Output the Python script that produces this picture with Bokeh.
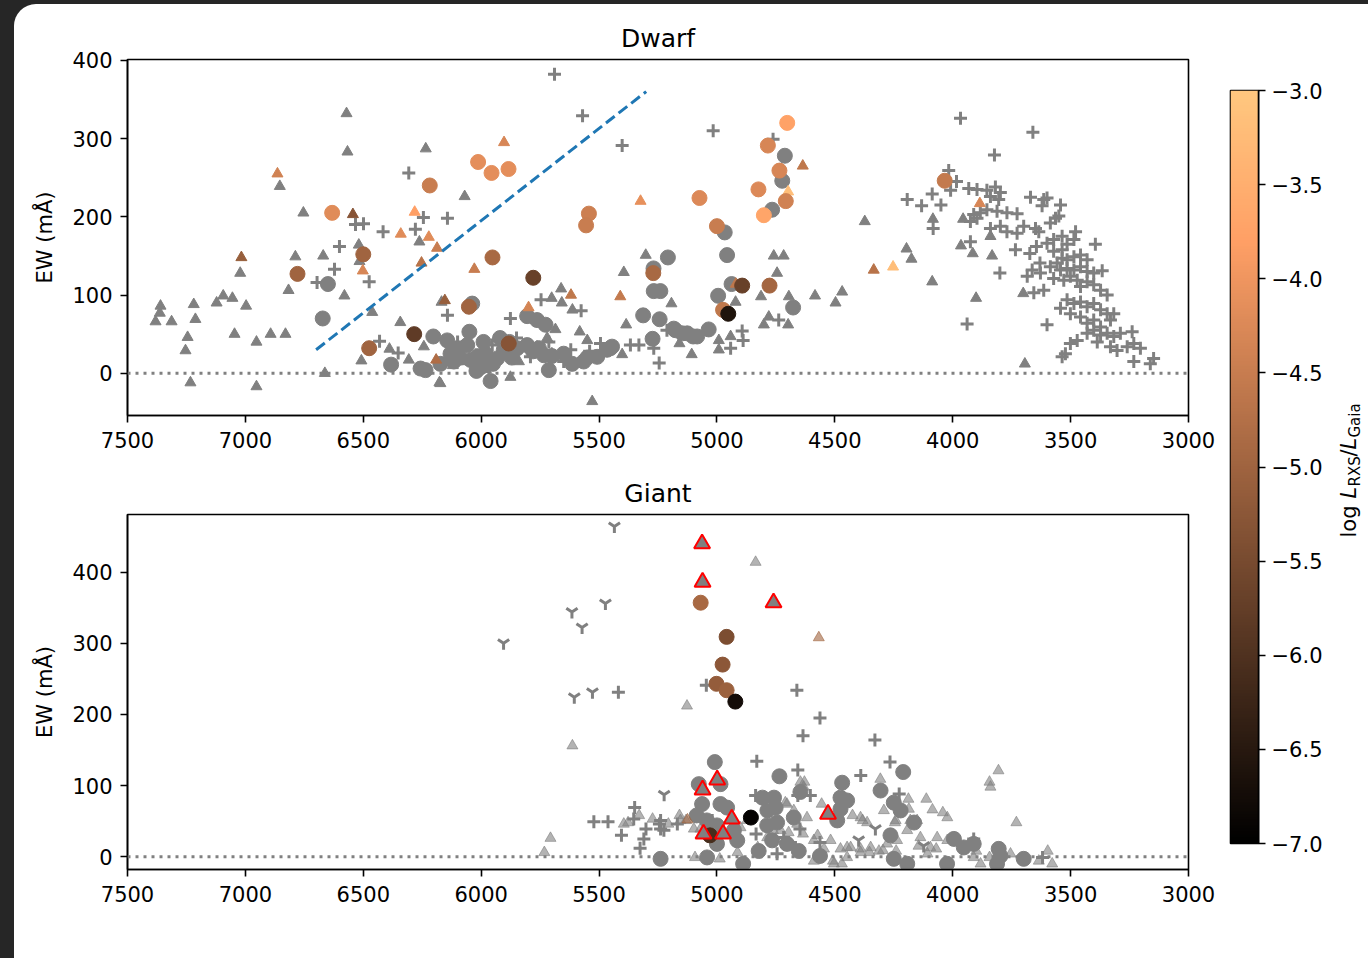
import numpy as np
from bokeh.plotting import figure
from bokeh.models import ColumnDataSource, Range1d, FixedTicker, LinearColorMapper, Span
from bokeh.core.properties import value
from bokeh.transform import linear_cmap
from bokeh.layouts import row, column
from bokeh.embed import file_html
from bokeh.resources import INLINE

FONT = "DejaVu Sans"
GRAY = "#808080"

# ---------------- data ----------------
x_ticks = [7500, 7000, 6500, 6000, 5500, 5000, 4500, 4000, 3500, 3000]
y_ticks = [0, 100, 200, 300, 400]
cbar_ticks = [-3.0, -3.5, -4.0, -4.5, -5.0, -5.5, -6.0, -6.5, -7.0]
cbar_labels = ["\u22123.0", "\u22123.5", "\u22124.0", "\u22124.5", "\u22125.0", "\u22125.5", "\u22126.0", "\u22126.5", "\u22127.0"]
zero_level = 0
line_teff = [6700, 5300]
line_ew = [30, 360]

# Dwarf: grey (no X-ray) circles
dw_gc_teff = [6650, 6672, 6382, 6038, 5208, 5269, 5268, 5240, 5313, 5243, 5273, 5183, 5147, 5101,
              6203, 6050, 6020, 5960, 5713, 5805, 5763, 5727, 5614, 5565, 5508, 5466, 5445,
              6257, 6236, 6144, 6102, 6059, 6017, 5982, 5932, 5904, 5847, 5805, 5755, 5734, 6045, 6116, 6173,
              4712, 4723, 4766, 4967, 4957, 4938, 4995, 4677, 5176, 5126, 5084, 5035, 5452,
              5880, 6000, 5950, 5870, 5780, 5700, 5650, 5550, 6090, 6130, 5990, 5920]
dw_gc_ew = [114, 70, 11, 89, 148, 134, 105, 105, 74, 69, 44, 57, 51, 47,
            47, 53, 3, -10, 4, 73, 68, 62, 12, 15, 21, 30, 34,
            6, 4, 42, 30, 36, 21, 25, 19, 30, 32, 36, 32, 23, 17, 15, 12,
            278, 246, 209, 180, 151, 114, 99, 84, 55, 51, 47, 56, 32,
            40, 8, 12, 20, 28, 22, 25, 20, 20, 25, 40, 45]

# Dwarf: coloured circles
dw_cc_teff = [6632, 6218, 6779, 6500, 6475, 6284, 6052, 6013, 5956, 5884, 5952, 5779, 5883, 5270,
              5543, 5555, 4702, 4784, 4735, 4824, 5074, 4801, 4708, 5000, 4893, 4777, 4974, 4952, 4034]
dw_cc_ew = [205, 240, 127, 152, 32, 50, 85, 270, 256, 261, 148, 122, 38, 128,
            204, 189, 320, 291, 259, 235, 224, 202, 220, 188, 112, 112, 81, 76, 246]
dw_cc_logl = [-4.2, -4.5, -5.0, -5.0, -5.0, -5.8, -5.0, -4.15, -4.15, -4.15, -4.9, -5.7, -5.3, -4.9,
              -4.45, -4.5, -3.75, -4.3, -4.3, -4.25, -4.25, -3.7, -4.4, -4.5, -5.7, -4.95, -4.6, -6.6, -4.55]

# Dwarf: grey triangles
dw_gt_teff = [7381, 7360, 7363, 7313, 7245, 7254, 7233, 7219, 7212, 7122, 7094, 7055, 7046, 6997, 7022,
              6953, 6953, 6893, 6830, 6854, 6754, 6788, 6817, 6670, 6663, 6571, 6567, 6580, 6519, 6516,
              6462, 6508, 6343, 6389, 6235, 6262, 6168, 6070, 6177,
              5302, 5395, 5385, 5193, 5107, 5529, 5661, 5701, 5658, 5613, 5685, 5582, 6243, 6173, 5876,
              6307, 5550, 5763,
              4759, 4717, 4745, 4373, 4584, 4497, 4469, 4813, 4695, 4801, 4780, 4698, 4921, 4992, 4942,
              4992, 5159, 5402,
              4084, 3956, 4196, 4175, 4087, 3965, 3915, 3833, 3840, 3901, 3701, 3694,
              6120, 6080, 5980, 5840, 5700, 5720]
dw_gt_ew = [66, 86, 77, 66, 46, 29, -12, 88, 69, 90, 99, 96, 50, 86, 128,
            40, -17, 50, 50, 239, 205, 149, 106, 150, 0, 332, 283, 99, 164, 143,
            78, 16, 65, 31, 287, 168, 91, 226, -12,
            151, 129, 62, 89, 24, -36, 108, 96, 90, 81, 56, 53, 34, -13, -5,
            17, 42, 34,
            150, 150, 128, 194, 99, 90, 104, 98, 98, 62, 72, 62, 91, 42, 47,
            30, 38, 24,
            197, 197, 159, 146, 117, 163, 153, 150, 175, 96, 102, 12,
            10, 15, 5, 15, 25, 45]

# Dwarf: coloured triangles
dw_ct_teff = [6864, 7017, 6544, 6502, 6341, 6282, 6222, 6187, 6253, 6154, 6191, 6029, 5799, 5619, 5410,
              5903, 5324, 4636, 4698, 4920, 4335, 4253, 3885]
dw_ct_ew = [255, 148, 203, 131, 178, 206, 174, 160, 141, 93, 17, 133, 84, 100, 98,
            295, 220, 265, 232, 114, 132, 136, 217]
dw_ct_logl = [-4.4, -5.1, -5.3, -4.3, -4.2, -3.8, -4.2, -4.5, -4.7, -5.1, -4.8, -4.5, -4.35, -4.6, -4.55,
              -4.3, -4.1, -4.6, -3.2, -4.6, -4.7, -3.2, -4.3]

# Dwarf: grey crosses
dw_x_teff = [6307, 6245, 6143, 6279, 6416, 6499, 6533, 6601, 6622, 6475, 6696, 6143, 6431, 6352,
             5876, 5746, 5576, 5494, 5331, 5367, 5245, 5650, 5713, 5791, 5953, 5212,
             5402, 5016, 4762, 4893, 4889, 4942, 4738, 5268, 5689, 5570,
             6100, 6000, 5900, 5850, 5620, 5540,
             3967, 3660, 3823, 4017, 3984, 4009, 4087, 4193, 4132, 4050, 4083,
             3932, 3897, 3855, 3819, 3798, 3840, 3805, 3670, 3614, 3600, 3543, 3621,
             3911, 3883, 3855, 3812, 3770, 3727, 3925, 3897, 3564, 3550,
             3840, 3798, 3770, 3727, 3699, 3649, 3635, 3586, 3479, 3486, 3395, 3925, 3734,
             3673, 3645, 3600, 3572, 3536, 3515, 3572, 3536, 3630, 3663, 3628, 3684, 3800,
             3586, 3557, 3536, 3515, 3486, 3458, 3430,
             3543, 3515, 3486, 3458, 3430, 3402, 3366,
             3572, 3529, 3501, 3472, 3458, 3430, 3402, 3373, 3345,
             3656, 3614, 3543, 3515, 3486, 3458, 3430, 3402, 3373, 3345,
             3501, 3458, 3430, 3402, 3373, 3331, 3317,
             3430, 3402, 3373, 3345, 3317, 3289,
             3501, 3472, 3387, 3331, 3303, 3260, 3232, 3204, 3239,
             3536, 3522, 3232, 3162, 3148, 3600, 3939]
dw_x_ew = [256, 199, 198, 184, 181, 191, 190, 162, 133, 117, 116, 74, 41, 26,
           70, 94, 80, 38, 36, 36, 13, 15, 40, 21, 36, 55,
           291, 310, 299, 54, 42, 32, 68, 32, 382, 329,
           40, 30, 25, 45, 30, 28,
           326, 308, 279, 259, 245, 234, 229, 222, 214, 215, 185,
           236, 235, 234, 238, 231, 226, 222, 225, 222, 224, 215, 214,
           203, 205, 209, 207, 205, 204, 194, 198, 198, 201,
           185, 188, 181, 179, 188, 185, 181, 192, 181, 171, 165, 168, 158,
           153, 162, 166, 171, 175, 165, 156, 158, 141, 132, 128, 124, 128,
           136, 141, 147, 145, 149, 151, 145,
           132, 134, 132, 136, 130, 128, 131,
           121, 119, 124, 119, 111, 117, 113, 106, 100,
           103, 106, 83, 94, 89, 91, 85, 89, 81, 76,
           76, 72, 64, 68, 59, 68, 76,
           51, 55, 49, 51, 47, 51,
           38, 42, 40, 34, 29, 34, 38, 32, 53,
           21, 25, 15, 12, 19, 62, 63]

# Giant: grey circles
gi_gc_teff = [5009, 5077, 4985, 4735, 4469, 4210, 4306, 4646, 5063, 4985, 4957, 4807, 4758, 4751, 4786,
              4476, 4448, 4476, 4250, 4221, 5086, 5043, 5000, 4928, 4914, 5000, 4787, 4745, 4766, 4703,
              4674, 4823, 5239, 5042, 4889, 4563, 4653, 4490, 4264, 4250, 4193, 4024, 3995, 3953, 3911,
              3805, 3798, 3812, 3699, 4164]
gi_gc_ew = [133, 102, 102, 113, 104, 119, 93, 91, 74, 74, 69, 83, 83, 69, 65,
            83, 79, 67, 76, 65, 58, 51, 44, 37, 23, 18, 44, 48, 23, 18,
            55, 8, -3, -1, -10, 1, 8, 51, 30, -3, -10, -10, 25, 13, 18,
            11, 1, -10, -3, 48]

# Giant: coloured circles
gi_cc_teff = [5069, 4959, 4976, 5002, 4959, 4922, 4856, 5030]
gi_cc_ew = [357, 309, 270, 243, 234, 218, 55, 30]
gi_cc_logl = [-4.9, -5.45, -5.25, -5.15, -5.05, -6.75, -6.95, -6.1]

# Giant: grey triangles
gi_gt_teff = [4836, 5127, 5613, 5706, 5732, 3806, 3844, 3730, 4112, 4086, 4042, 4023, 4307, 4188, 4180,
              4245, 4382, 4425, 4556, 4629, 4710, 4762, 4696, 4635, 4573, 4448, 4391, 4353, 4296, 4240,
              4193, 4145, 4107, 4070, 4546, 4508, 4470, 3597, 3578, 3635, 3900, 3844, 5377, 5330, 5273,
              5206, 5159, 5093, 4988, 4913, 4827, 5131,
              3840, 4186, 4066, 4023, 4137, 4095, 4518, 4476, 4433, 4391, 4348, 4313, 4278, 4236, 4589,
              4504, 4448, 4391, 4363, 4292, 4242, 4151, 3911, 3882, 3755, 5395, 5155, 5098, 5070, 4900,
              4872, 4787, 4730, 4703, 4674, 4660, 4618, 4646, 4632, 4589]
gi_gt_ew = [414, 212, 156, 26, 6, 121, 105, 48, 81, 66, 62, 55, 109, 81, 51,
            48, 51, 58, 74, 105, 76, 37, 34, 32, 30, 13, 11, 6, 9, 8,
            37, 15, 4, 11, 11, -6, -10, 8, -10, -6, 8, -1, 48, 58, 53,
            46, 58, -1, -3, 6, 13, 51,
            98, 67, 27, 23, 27, 13, 23, 11, 13, 6, 13, 8, 18, 23, -6,
            -10, -1, 55, 48, 65, 51, 51, -1, -10, 4, 46, 51, 39, 39, 41,
            51, 27, 37, 74, 65, 46, 55, 105, 98, 23]

# Giant: coloured triangles
gi_ct_teff = [4568, 5125]
gi_ct_ew = [308, 52]
gi_ct_logl = [-5.0, -5.0]

# Giant: red-edged triangles
gi_rt_teff = [5063, 5061, 4760, 4999, 5061, 4937, 4974, 5057, 4529]
gi_rt_ew = [440, 386, 357, 108, 94, 53, 32, 32, 60]

# Giant: Y markers
gi_y_teff = [5435, 5473, 5615, 5572, 5905, 5605, 5528, 5224, 4328, 4399, 4123]
gi_y_ew = [464, 356, 344, 322, 300, 224, 231, 87, 39, 23, 15]

# Giant: grey crosses
gi_x_teff = [5418, 5045, 4661, 4563, 4635, 4330, 4831, 4266, 4657, 4390, 4227, 5522, 5462, 5349, 5405,
             5326, 5310, 5301, 5244, 5225, 5168, 4834, 4745, 4667, 4657, 4604, 3619, 4836, 5353, 5239,
             5239, 4717, 4648, 4563, 3911, 5020]
gi_x_ew = [231, 241, 234, 195, 170, 164, 134, 133, 122, 114, 88, 49, 49, 69, 30,
           12, 25, 39, 46, 37, 46, 32, 4, 13, 86, 86, -1, 86, 53, 51,
           39, 27, 39, 20, 25, 51]

# colour-bar label pieces
cbar_label_text = ["log", "L", "RXS", "/", "L", "Gaia"]
cbar_label_style = ["normal", "italic", "normal", "normal", "italic", "normal"]
cbar_label_size = ["21px", "21px", "15px", "21px", "21px", "15px"]
cbar_label_sub = [False, False, True, False, False, True]

# ---------------- colour map ----------------
COPPER = []
for i in range(256):
    t = i / 255.0
    COPPER.append("#%02x%02x%02x" % (round(min(1.0, 1.25 * t) * 255), round(0.7812 * t * 255), round(0.4975 * t * 255)))
mapper = LinearColorMapper(palette=COPPER, low=-7, high=-3)


def style_panel(p, title):
    p.title.text = title
    p.title.align = "center"
    p.title.text_font = FONT
    p.title.text_font_size = "25px"
    p.title.text_font_style = "normal"
    p.title.text_color = "black"
    p.title.standoff = 13
    p.xgrid.visible = False
    p.ygrid.visible = False
    p.background_fill_color = "white"
    p.border_fill_alpha = 0
    p.outline_line_color = "black"
    p.outline_line_width = 1.6
    p.xaxis.ticker = FixedTicker(ticks=x_ticks)
    p.yaxis.ticker = FixedTicker(ticks=y_ticks)
    for ax in (p.xaxis[0], p.yaxis[0]):
        ax.major_label_text_font = FONT
        ax.major_label_text_font_size = "21px"
        ax.major_label_text_color = "black"
        ax.major_tick_out = 7
        ax.major_tick_in = 0
        ax.minor_tick_out = 0
        ax.minor_tick_in = 0
        ax.major_tick_line_width = 1.6
        ax.major_tick_line_color = "black"
        ax.axis_line_width = 1.6
        ax.axis_line_color = "black"
    p.xaxis.major_label_standoff = 9
    p.yaxis.major_label_standoff = 8
    p.yaxis.axis_label = "EW (m\u00c5)"
    p.yaxis.axis_label_text_font = FONT
    p.yaxis.axis_label_text_font_size = "21px"
    p.yaxis.axis_label_text_font_style = "normal"
    p.yaxis.axis_label_text_color = "black"
    p.yaxis.axis_label_standoff = 12
    p.add_layout(Span(location=zero_level, dimension="width", line_color=GRAY, line_width=3, line_dash="3 5"))


# ---------------- Dwarf panel ----------------
p1 = figure(width=1204, height=461, x_range=Range1d(7500, 3000), y_range=Range1d(-54, 401),
            output_backend="svg", toolbar_location=None,
            min_border_left=113, min_border_right=30, min_border_top=55, min_border_bottom=50)
style_panel(p1, "Dwarf")

p1.scatter(dw_gt_teff, dw_gt_ew, marker="triangle", size=11, fill_color=GRAY, line_color=GRAY)
p1.scatter(dw_x_teff, dw_x_ew, marker="cross", size=13, line_color=GRAY, line_width=3)
p1.scatter(dw_gc_teff, dw_gc_ew, marker="circle", size=15, fill_color=GRAY, line_color=GRAY)
cm = linear_cmap("c", COPPER, -7, -3)
src = ColumnDataSource(dict(x=dw_ct_teff, y=dw_ct_ew, c=dw_ct_logl))
p1.scatter("x", "y", source=src, marker="triangle", size=11, fill_color=cm, line_color=cm)
src = ColumnDataSource(dict(x=dw_cc_teff, y=dw_cc_ew, c=dw_cc_logl))
p1.scatter("x", "y", source=src, marker="circle", size=15, fill_color=cm, line_color=cm)
p1.line(line_teff, line_ew, line_color="#1f77b4", line_width=3, line_dash="11 5")

# ---------------- Giant panel ----------------
p2 = figure(width=1204, height=493, x_range=Range1d(7500, 3000), y_range=Range1d(-18, 481),
            output_backend="svg", toolbar_location=None,
            min_border_left=113, min_border_right=30, min_border_top=49, min_border_bottom=89)
style_panel(p2, "Giant")

p2.scatter(gi_gt_teff, gi_gt_ew, marker="triangle", size=11, fill_color=GRAY, line_color=GRAY, alpha=0.6)
p2.scatter(gi_x_teff, gi_x_ew, marker="cross", size=13, line_color=GRAY, line_width=3)
p2.scatter(gi_y_teff, gi_y_ew, marker="y", size=13, line_color=GRAY, line_width=3)
p2.scatter(gi_gc_teff, gi_gc_ew, marker="circle", size=15, fill_color=GRAY, line_color=GRAY)
src = ColumnDataSource(dict(x=gi_ct_teff, y=gi_ct_ew, c=gi_ct_logl))
p2.scatter("x", "y", source=src, marker="triangle", size=11, fill_color=cm, line_color=cm, alpha=0.6)
src = ColumnDataSource(dict(x=gi_cc_teff, y=gi_cc_ew, c=gi_cc_logl))
p2.scatter("x", "y", source=src, marker="circle", size=15, fill_color=cm, line_color=cm)
p2.scatter(gi_rt_teff, gi_rt_ew, marker="triangle", size=16, fill_color=GRAY, line_color="red", line_width=2)

# ---------------- colour bar ----------------
pc = figure(width=112, height=954, x_range=Range1d(0, 1), y_range=Range1d(-7, -3),
            output_backend="svg", toolbar_location=None, x_axis_location=None, y_axis_location="right",
            min_border_left=12, min_border_right=72, min_border_top=86, min_border_bottom=115)
pc.xgrid.visible = False
pc.ygrid.visible = False
pc.border_fill_alpha = 0
pc.outline_line_color = "black"
pc.outline_line_width = 1.6
grad = np.linspace(-7, -3, 256).reshape(-1, 1)
pc.image(image=[grad], x=0, y=-7, dw=1, dh=4, color_mapper=mapper)
ay = pc.yaxis[0]
ay.ticker = FixedTicker(ticks=cbar_ticks)
ay.major_label_overrides = {t: s for t, s in zip(cbar_ticks, cbar_labels)}
ay.major_label_text_font = FONT
ay.major_label_text_font_size = "21px"
ay.major_label_text_color = "black"
ay.major_tick_out = 7
ay.major_tick_in = 0
ay.minor_tick_out = 0
ay.minor_tick_in = 0
ay.major_tick_line_width = 1.6
ay.axis_line_width = 1.6
ay.major_label_standoff = 6

# ---------------- colour-bar label strip ----------------
# the row aligns this strip's frame with the colour bar frame (card rows 86..839),
# so its y range is expressed in pixels measured upward from the card bottom.
pl = figure(width=38, height=954, x_range=Range1d(0, 38), y_range=Range1d(954 - 839, 954 - 86),
            output_backend="svg", toolbar_location=None, x_axis_location=None, y_axis_location=None,
            min_border_left=0, min_border_right=0, min_border_top=86, min_border_bottom=115)
pl.xgrid.visible = False
pl.ygrid.visible = False
pl.outline_line_color = None
pl.background_fill_alpha = 0
pl.border_fill_alpha = 0
piece_start = [954 - 533, 954 - 494, 954 - 482, 954 - 452, 954 - 445, 954 - 433]
for i in range(len(cbar_label_text)):
    pl.text(x=[24 if cbar_label_sub[i] else 18], y=[piece_start[i]], text=[cbar_label_text[i]],
            angle=np.pi / 2, text_align="left", text_baseline="alphabetic", text_font=value(FONT),
            text_font_size=cbar_label_size[i], text_font_style=cbar_label_style[i], text_color="black")

card = row(column(p1, p2), pc, pl, margin=(4, 0, 0, 14),
           styles={"background-color": "white", "border-top-left-radius": "22px"})
page = column(card, styles={"background-color": "#262626"})

open("out.html", "w").write(file_html(page, INLINE))
